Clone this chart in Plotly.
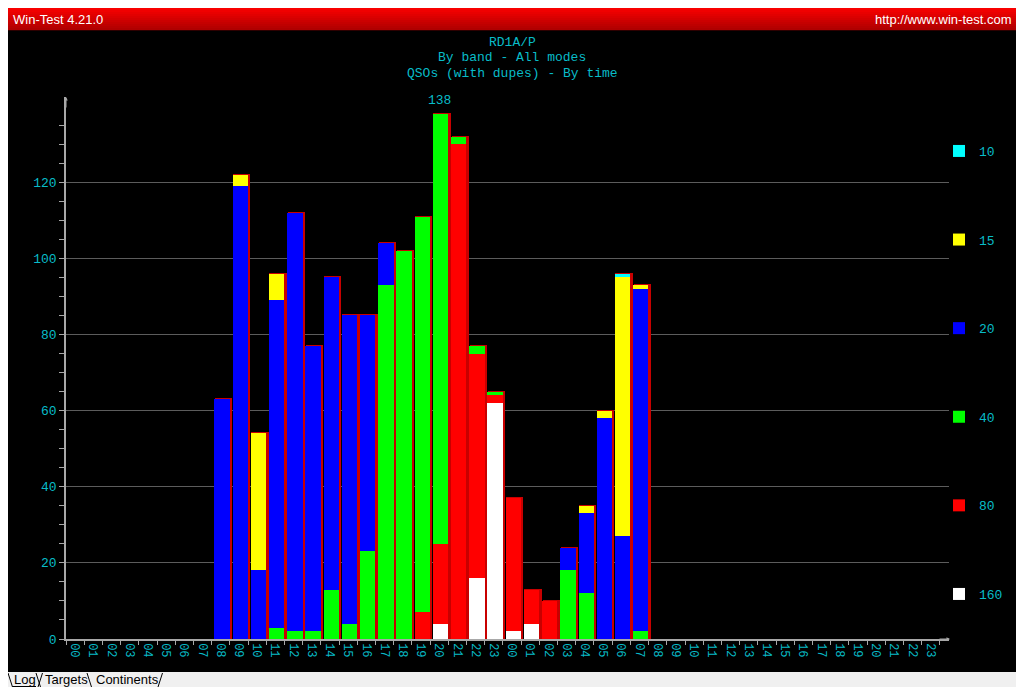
import plotly.graph_objects as go

# --------------------------------------------------------------
#  DATA  (QSOs per hour, RD1A/P)
# --------------------------------------------------------------

# axis labels: two days of 00..23
hour_labels = ["%02d" % h for h in range(24)] * 2

# contest hours, day 1 08..23 then day 2 00..07
contest_hours = ["08", "09", "10", "11", "12", "13", "14", "15", "16", "17", "18", "19",
                 "20", "21", "22", "23", "00", "01", "02", "03", "04", "05", "06", "07"]
first_slot = 8   # "08" of day 1 is the 9th slot on the axis

qso_160 = [0, 0, 0, 0, 0, 0, 0, 0, 0, 0, 0, 0, 4, 0, 16, 62, 2, 4, 0, 0, 0, 0, 0, 0]
qso_80 = [0, 0, 0, 0, 0, 0, 0, 0, 0, 0, 0, 7, 21, 130, 59, 2, 35, 9, 10, 0, 0, 0, 0, 0]
qso_40 = [0, 0, 0, 3, 2, 2, 13, 4, 23, 93, 102, 104, 113, 2, 2, 1, 0, 0, 0, 18, 12, 0, 0, 2]
qso_20 = [63, 119, 18, 86, 110, 75, 82, 81, 62, 11, 0, 0, 0, 0, 0, 0, 0, 0, 0, 6, 21, 58, 27, 90]
qso_15 = [0, 3, 36, 7, 0, 0, 0, 0, 0, 0, 0, 0, 0, 0, 0, 0, 0, 0, 0, 0, 2, 2, 68, 1]
qso_10 = [0, 0, 0, 0, 0, 0, 0, 0, 0, 0, 0, 0, 0, 0, 0, 0, 0, 0, 0, 0, 0, 0, 1, 0]

bands = ["160", "80", "40", "20", "15", "10"]          # stacked bottom -> top
band_values = [qso_160, qso_80, qso_40, qso_20, qso_15, qso_10]
band_colors = ["#ffffff", "#ff0000", "#00ff00", "#0000ff", "#ffff00", "#00ffff"]

y_major = [0, 20, 40, 60, 80, 100, 120]
y_minor = [v for v in range(5, 140, 5) if v % 20 != 0]

title_lines = ["RD1A/P", "By band - All modes", "QSOs (with dupes) - By time"]

# -------------------------------
#  helpers / styles
# -------------------------------
# the html page keeps an 8px body margin all round, so the figure is
# 16px smaller than the window and screen positions are moved by 8
PAGE_OFF = 8
W, H = 1024 - 2 * PAGE_OFF, 695 - 2 * PAGE_OFF
CYAN = "#08bcc8"
MONO = "Liberation Mono, DejaVu Sans Mono, monospace"
AXIS_GREY = "#a8a8a8"


def px(x):
    return (x - PAGE_OFF) / W


def py(y):
    return 1 - (y - PAGE_OFF) / H


x_pos = [first_slot + i + 0.5 for i in range(len(contest_hours))]
totals = [sum(v[i] for v in band_values) for i in range(len(contest_hours))]
peak = max(totals)
peak_x = x_pos[totals.index(peak)]

x_range = [0, 48.5]
y_range = [0, 142.4]
bar_w = 0.84
bar_off = -0.35

fig = go.Figure()

# red "shadow" behind each stack (top + right edge)
fig.add_trace(go.Bar(
    x=x_pos, y=totals, width=bar_w, offset=bar_off + 0.08,
    marker=dict(color="#c80000", line=dict(color="#c80000", width=2)),
    showlegend=False, hoverinfo="skip", xaxis="x", yaxis="y"
))

# stacked bands, legend shows 10 on top down to 160
for k, (name, vals, col) in enumerate(zip(bands, band_values, band_colors)):
    fig.add_trace(go.Bar(
        x=x_pos, y=vals, name=name, width=bar_w, offset=bar_off,
        marker=dict(color=col, line=dict(width=0)),
        legendgroup=name, legendrank=len(bands) - k,
        xaxis="x2", yaxis="y2"
    ))

# -------------------------------
#  window chrome (shapes)
# -------------------------------
shapes = []
# black panel
shapes.append(dict(type="rect", xref="paper", yref="paper", layer="below",
                   x0=px(8), x1=px(1016), y0=py(672), y1=py(30),
                   fillcolor="#000000", line=dict(width=0)))
# red title bar, fake gradient
n_strips = 11
for k in range(n_strips):
    top = 8 + k * 2
    r = int(248 - k * (248 - 176) / (n_strips - 1))
    shapes.append(dict(type="rect", xref="paper", yref="paper", layer="below",
                       x0=px(8), x1=px(1016), y0=py(top + 2.2), y1=py(top),
                       fillcolor="rgb(%d,0,0)" % r, line=dict(width=0)))
# tab strip at the bottom
shapes.append(dict(type="rect", xref="paper", yref="paper", layer="below",
                   x0=px(8), x1=px(1016), y0=py(687), y1=py(672),
                   fillcolor="#f0f0f0", line=dict(width=0)))
# tab outlines
tab_lines = [(8, 12.5), (36, 40.5), (42.5, 38), (87, 91.5), (162.5, 158)]
for xa, xb in tab_lines:
    shapes.append(dict(type="line", xref="paper", yref="paper",
                       x0=px(xa), x1=px(xb), y0=py(673), y1=py(687),
                       line=dict(color="#000000", width=1)))
shapes.append(dict(type="line", xref="paper", yref="paper",
                   x0=px(12.5), x1=px(36), y0=py(686.5), y1=py(686.5),
                   line=dict(color="#000000", width=1)))

# -------------------------------
#  annotations
# -------------------------------
HEAD_FONT = dict(family="Liberation Sans Narrow, Arial Narrow, Liberation Sans", size=13, color="#ffffff")
annotations = [
    dict(text="Win-Test 4.21.0", xref="paper", yref="paper", x=px(11), y=py(19),
         xanchor="left", yanchor="middle", showarrow=False, font=HEAD_FONT),
    dict(text="http://www.win-test.com", xref="paper", yref="paper", x=px(1014), y=py(19),
         xanchor="right", yanchor="middle", showarrow=False, font=HEAD_FONT),
    dict(text=str(peak), xref="x", yref="y", x=peak_x, y=peak, yshift=4,
         xanchor="center", yanchor="bottom", showarrow=False,
         font=dict(family=MONO, size=13, color=CYAN)),
    # axis arrow heads
    dict(text="", xref="paper", yref="paper", x=px(66), y=py(97), ax=0, ay=12,
         showarrow=True, arrowhead=2, arrowsize=0.7, arrowwidth=1, arrowcolor=AXIS_GREY),
    dict(text="", xref="paper", yref="paper", x=px(950), y=py(639), ax=-12, ay=0,
         showarrow=True, arrowhead=2, arrowsize=0.7, arrowwidth=1, arrowcolor=AXIS_GREY),
]
for k, line in enumerate(title_lines):
    annotations.append(dict(text=line, xref="paper", yref="paper", x=px(512), y=py(42 + 16 * k),
                            xanchor="center", yanchor="middle", showarrow=False,
                            font=dict(family=MONO, size=13, color=CYAN)))
tab_names = [("Log", 25), ("Targets", 66), ("Continents", 127)]
for name, cx in tab_names:
    annotations.append(dict(text=name, xref="paper", yref="paper", x=px(cx), y=py(679),
                            xanchor="center", yanchor="middle", showarrow=False,
                            font=dict(family="Liberation Sans, Arial", size=13, color="#000000")))

# -------------------------------
#  layout
# -------------------------------
fig.update_layout(
    width=W, height=H,
    margin=dict(l=0, r=0, t=0, b=0, autoexpand=False),
    paper_bgcolor="#f0f0f0",
    plot_bgcolor="rgba(0,0,0,0)",
    barmode="stack",
    xaxis=dict(domain=[px(66), px(949)], range=x_range, anchor="y", automargin=False,
               tickmode="array", tickvals=[i + 0.5 for i in range(48)], ticktext=hour_labels,
               ticks="", tickangle=90, tickfont=dict(family=MONO, size=12, color=CYAN),
               minor=dict(tickmode="linear", tick0=0, dtick=1, ticks="outside",
                          ticklen=4, tickcolor=AXIS_GREY, tickwidth=1),
               showline=True, linecolor=AXIS_GREY, linewidth=1.5,
               showgrid=False, zeroline=False, fixedrange=True),
    yaxis=dict(domain=[py(639), py(97)], range=y_range, anchor="x", automargin=False,
               tickmode="array", tickvals=y_major, ticks="outside", ticklen=5,
               tickcolor=AXIS_GREY, tickfont=dict(family=MONO, size=13, color=CYAN),
               minor=dict(tickmode="array", tickvals=y_minor, ticks="outside",
                          ticklen=5, tickcolor=AXIS_GREY, showgrid=False),
               showline=True, linecolor=AXIS_GREY, linewidth=1.5,
               showgrid=True, gridcolor="#5c5c5c", gridwidth=1,
               zeroline=False, fixedrange=True),
    xaxis2=dict(overlaying="x", range=x_range, visible=False, anchor="y2", automargin=False),
    yaxis2=dict(overlaying="y", range=y_range, visible=False, anchor="x2", automargin=False),
    legend=dict(x=px(939), y=py(136), xanchor="left", yanchor="top",
                bgcolor="rgba(0,0,0,0)", font=dict(family=MONO, size=13, color=CYAN),
                tracegroupgap=68.7, traceorder="grouped", itemclick=False,
                itemdoubleclick=False),
    shapes=shapes,
    annotations=annotations,
    showlegend=True,
)

fig.write_html("out.html")
